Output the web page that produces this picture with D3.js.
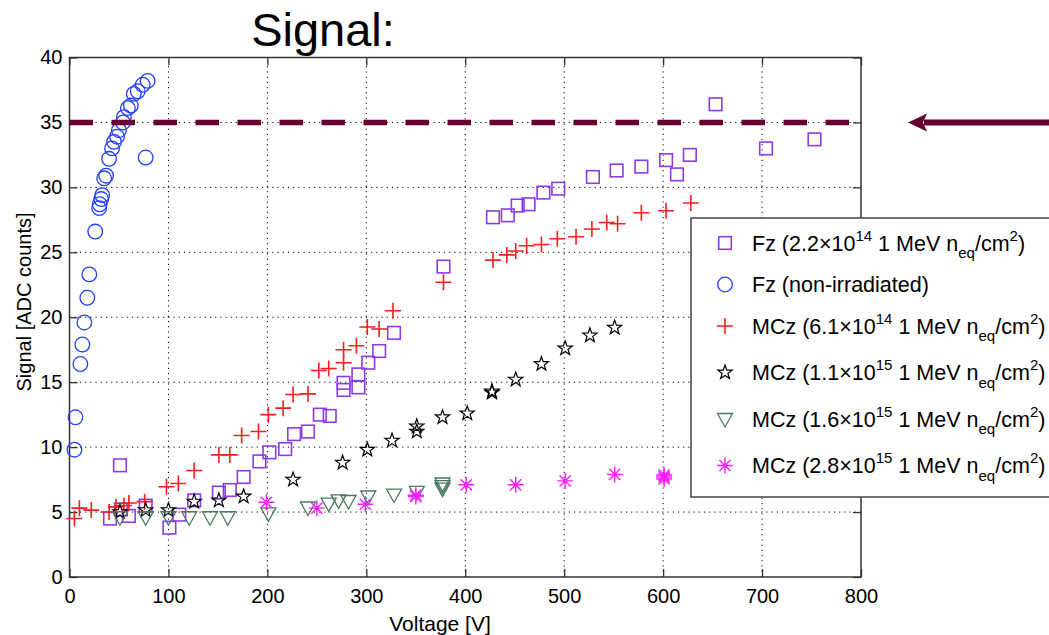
<!doctype html>
<html lang="en">
<head>
  <meta charset="utf-8">
  <script src="https://cdnjs.cloudflare.com/ajax/libs/d3/7.8.5/d3.min.js"></script>
  <style>
    html, body{margin:0px; padding:0px; background:#fff;}
    svg text{font-family:"Liberation Sans", Arial, sans-serif; fill:#000;}
  </style>
</head>
<body>
<div id="view"></div>
<script>
/* chart data: [voltage V, signal ADC] */
var fzIrr = [[41,4.5],[51,8.6],[52,5.2],[60,4.7],[77,5.5],[101,3.8],[111,4.8],[126,5.9],[151,6.5],[162,6.7],
  [176,7.7],[192,8.9],[202,9.6],[218,9.85],[227,11.0],[241,11.2],[253,12.5],[263,12.4],[277,14.95],[277,14.4],
  [292,15.6],[292,14.6],[302,16.5],[313,17.4],[328,18.8],[378,23.9],[428,27.7],[443,27.85],[453,28.6],[464,28.7],
  [479,29.6],[494,29.9],[529,30.8],[553,31.3],[578,31.6],[603,32.1],[614,31.0],[627,32.5],[653,36.4],[704,33.0],[753,33.7]];
var fzNonIrr = [[5,9.8],[6,12.3],[11,16.4],[13,17.9],[15,19.6],[18,21.5],[20,23.3],[26,26.6],[30,28.4],[30.5,28.7],
  [32,29.1],[33,29.4],[35,30.7],[37,30.9],[40,32.2],[43,33.0],[45,33.5],[48,33.9],[50,34.4],[54,35.0],[55,35.4],
  [59,36.1],[62,36.3],[65,37.2],[69,37.4],[74,37.9],[79,38.2],[77,32.3]];
var mcz61 = [[5,4.5],[10,5.3],[22,5.15],[40,5.0],[47,5.4],[55,5.5],[60,5.7],[76,5.8],[98,6.95],[110,7.2],[126,8.2],
  [151,9.4],[162,9.4],[174,10.9],[191,11.2],[201,12.5],[216,13.0],[226,14.05],[241,14.1],[252,15.9],[262,16.05],
  [277,16.5],[277,17.5],[290,17.8],[301,19.25],[313,19.1],[327,20.5],[378,22.7],[428,24.4],[442,24.8],[451,25.1],
  [462,25.5],[477,25.6],[493,26.05],[512,26.2],[528,26.8],[543,27.3],[554,27.2],[578,28.05],[603,28.2],[628,28.8]];
var mcz11 = [[51,5.0],[77,5.15],[100,5.15],[126,5.8],[151,5.9],[176,6.2],[226,7.5],[276,8.8],[301,9.8],[326,10.5],
  [351,11.6],[351,11.2],[377,12.3],[402,12.6],[427,14.2],[427,14.3],[451,15.2],[477,16.4],[501,17.6],[526,18.6],[551,19.2]];
var mcz16 = [[51,4.6],[77,4.6],[100,4.6],[121,4.6],[142,4.6],[160,4.6],[201,4.9],[241,5.35],[262,5.65],[272,5.9],
  [282,5.85],[302,6.2],[328,6.35],[351,6.55],[377,7.2],[377,7.0],[377,6.8]];
var mcz28 = [[199,5.75],[250,5.3],[299,5.6],[350,6.3],[350,6.2],[401,7.1],[451,7.1],[501,7.4],[551,7.9],
  [601,7.85],[601,7.55],[601,7.7]];

var xTicks = [0,100,200,300,400,500,600,700,800];
var yTicks = [0,5,10,15,20,25,30,35,40];
var threshold = 35;   // dashed reference level
var thresholdEnd = 789;

var seriesNames = ["Fz (2.2×10^{14} 1 MeV n_{eq}/cm^{2})", "Fz (non-irradiated)",
  "MCz (6.1×10^{14} 1 MeV n_{eq}/cm^{2})", "MCz (1.1×10^{15} 1 MeV n_{eq}/cm^{2})",
  "MCz (1.6×10^{15} 1 MeV n_{eq}/cm^{2})", "MCz (2.8×10^{15} 1 MeV n_{eq}/cm^{2})"];
var seriesColors = ["#8c3ce6", "#2440ff", "#ff1c1c", "#000000", "#4a7a5e", "#ff1eff"];
var seriesMarkers = ["square", "circle", "plus", "star", "triangle", "asterisk"];
var seriesData = [fzIrr, fzNonIrr, mcz61, mcz11, mcz16, mcz28];

var W = 1049, H = 635;
var svg = d3.select("#view").append("svg").attr("width", W).attr("height", H);

var x = d3.scaleLinear().domain([0, 800]).range([69.5, 861]);
var y = d3.scaleLinear().domain([0, 40]).range([577, 57.5]);

// grid
var grid = svg.append("g").attr("stroke", "#000").attr("stroke-width", 1).attr("stroke-dasharray", "1.2,4");
grid.selectAll(".gx").data(xTicks.slice(1, -1)).enter().append("line")
  .attr("x1", function(d){return x(d);}).attr("x2", function(d){return x(d);})
  .attr("y1", y(0)).attr("y2", y(40));
grid.selectAll(".gy").data(yTicks.slice(1, -1)).enter().append("line")
  .attr("y1", function(d){return y(d);}).attr("y2", function(d){return y(d);})
  .attr("x1", x(0)).attr("x2", x(800));

// axes with inward ticks
function styleAxis(g){
  g.select(".domain").remove();
  g.selectAll(".tick line").attr("stroke", "#333").attr("stroke-width", 1.3);
  g.selectAll(".tick text").attr("font-size", 20).attr("fill", "#000");
}
svg.append("g").attr("transform", "translate(0," + y(0) + ")")
  .call(d3.axisBottom(x).tickValues(xTicks).tickSizeInner(-8).tickSizeOuter(0).tickPadding(12))
  .call(styleAxis);
svg.append("g").attr("transform", "translate(" + x(0) + ",0)")
  .call(d3.axisLeft(y).tickValues(yTicks).tickSizeInner(-8).tickSizeOuter(0).tickPadding(7))
  .call(styleAxis);
svg.append("g").attr("transform", "translate(0," + y(40) + ")")
  .call(d3.axisTop(x).tickValues(xTicks).tickSizeInner(-8).tickSizeOuter(0).tickFormat(""))
  .call(styleAxis);
svg.append("g").attr("transform", "translate(" + x(800) + ",0)")
  .call(d3.axisRight(y).tickValues(yTicks).tickSizeInner(-8).tickSizeOuter(0).tickFormat(""))
  .call(styleAxis);
svg.append("rect").attr("x", x(0)).attr("y", y(40))
  .attr("width", x(800) - x(0)).attr("height", y(0) - y(40))
  .attr("fill", "none").attr("stroke", "#333").attr("stroke-width", 1.5);

// marker shapes
function drawMarker(sel, kind, color){
  if (kind === "square") {
    sel.append("rect").attr("x", -6.3).attr("y", -6.3).attr("width", 12.6).attr("height", 12.6)
      .attr("fill", "none").attr("stroke", color).attr("stroke-width", 1.6);
  } else if (kind === "circle") {
    sel.append("circle").attr("r", 7.3).attr("fill", "none").attr("stroke", color).attr("stroke-width", 1.3);
  } else if (kind === "plus") {
    sel.append("path").attr("d", "M-8,0H8M0,-8V8").attr("stroke", color).attr("stroke-width", 1.6);
  } else if (kind === "star") {
    var pts = d3.range(10).map(function(i){
      var r = i % 2 ? 3 : 7.5, a = -Math.PI / 2 + i * Math.PI / 5;
      return [r * Math.cos(a), r * Math.sin(a)];
    });
    sel.append("path").attr("d", "M" + pts.join("L") + "Z")
      .attr("fill", "none").attr("stroke", color).attr("stroke-width", 1.2);
  } else if (kind === "triangle") {
    sel.append("path").attr("d", "M-7.5,-5.5L7.5,-5.5L0,8Z")
      .attr("fill", "none").attr("stroke", color).attr("stroke-width", 1.3);
  } else if (kind === "asterisk") {
    sel.append("path").attr("d", "M-8,0H8M0,-8V8M-5.6,-5.6L5.6,5.6M-5.6,5.6L5.6,-5.6")
      .attr("stroke", color).attr("stroke-width", 1.4);
    sel.append("circle").attr("r", 1.8).attr("fill", color);
  }
}

// points
seriesData.forEach(function(data, k){
  var g = svg.append("g");
  g.selectAll("g").data(data).enter().append("g")
    .attr("transform", function(d){return "translate(" + x(d[0]) + "," + y(d[1]) + ")";})
    .each(function(){ drawMarker(d3.select(this), seriesMarkers[k], seriesColors[k]); });
});

// dashed reference line
svg.append("line").attr("x1", x(0)).attr("x2", x(thresholdEnd))
  .attr("y1", y(threshold)).attr("y2", y(threshold))
  .attr("stroke", "#660033").attr("stroke-width", 5.5).attr("stroke-dasharray", "23.5,18.5");

// arrow pointing at the line
svg.append("line").attr("x1", 924).attr("x2", W).attr("y1", y(threshold)).attr("y2", y(threshold))
  .attr("stroke", "#660033").attr("stroke-width", 6);
svg.append("path").attr("d", "M908," + y(threshold) + "L927," + (y(threshold) - 9) + "L923," + y(threshold) +
  "L927," + (y(threshold) + 9) + "Z").attr("fill", "#660033");

// rich text: ^{..} superscript, _{..} subscript
function richText(t, str, size){
  var re = /([\^_])\{([^}]*)\}/g, last = 0, m, shift = 0;
  function add(s, dy, fs){
    if (!s) return;
    t.append("tspan").attr("dy", dy).attr("font-size", fs).text(s);
  }
  while ((m = re.exec(str)) !== null) {
    add(str.slice(last, m.index), -shift, size); shift = 0;
    var d = m[1] === "^" ? -0.45 * size : 0.35 * size;
    add(m[2], d, size * 0.7); shift = d;
    last = re.lastIndex;
  }
  add(str.slice(last), -shift, size);
}

// legend
var lg = svg.append("g");
lg.append("rect").attr("x", 691).attr("y", 218).attr("width", 380).attr("height", 279)
  .attr("fill", "#fff").attr("stroke", "#444").attr("stroke-width", 1.5);
var rowY = 243;
seriesNames.forEach(function(name, i){
  if (i > 0) {
    var plain = name.indexOf("^") < 0 || seriesNames[i - 1].indexOf("^") < 0;
    rowY += plain ? 41.5 : 46.5;
  }
  var row = lg.append("g").attr("transform", "translate(0," + rowY + ")");
  drawMarker(row.append("g").attr("transform", "translate(725,0)"), seriesMarkers[i], seriesColors[i]);
  var t = row.append("text").attr("x", 752).attr("y", 7.5).attr("font-size", 21.5);
  richText(t, name, 21.5);
});

// labels
svg.append("text").attr("x", 440).attr("y", 631).attr("text-anchor", "middle")
  .attr("font-size", 21).text("Voltage [V]");
svg.append("text").attr("transform", "translate(31,302) rotate(-90)").attr("text-anchor", "middle")
  .attr("font-size", 20).text("Signal [ADC counts]");
svg.append("text").attr("x", 323).attr("y", 46).attr("text-anchor", "middle")
  .attr("font-size", 47).text("Signal:");
</script>
</body>
</html>
